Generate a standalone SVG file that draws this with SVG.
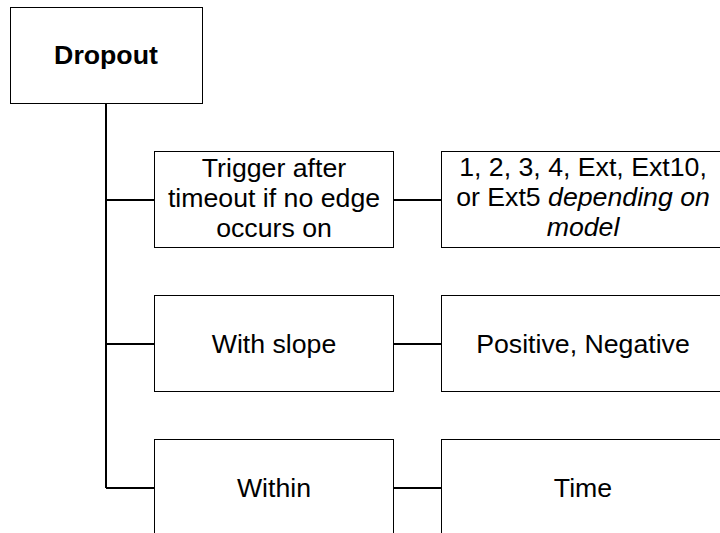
<svg xmlns="http://www.w3.org/2000/svg" width="720" height="533" viewBox="0 0 720 533">
<style>
.box{fill:#fff;stroke:#000;stroke-width:1}
.conn{fill:none;stroke:#000;stroke-width:2}
text{font-family:"Liberation Sans",Arial,sans-serif;font-size:26.7px;fill:#000;text-anchor:middle}
.b{font-weight:bold}
.i{font-style:italic}
</style>
<rect width="720" height="533" fill="#fff"/>
<g id="connectors">
<path class="conn" d="M106 103.5V488M106 200H154.5M106 344H154.5M106 488H154.5M393.5 200H441.5M393.5 344H441.5M393.5 488H441.5"/>
</g>
<g id="dropout">
<rect class="box" x="10.5" y="7.5" width="192" height="96"/>
<text class="b" x="106" y="64">Dropout</text>
</g>
<g id="trigger">
<rect class="box" x="154.5" y="151.5" width="239" height="96"/>
<text x="274" y="177">Trigger after</text>
<text x="274" y="207">timeout if no edge</text>
<text x="274" y="237">occurs on</text>
</g>
<g id="sources">
<rect class="box" x="441.5" y="151.5" width="283" height="96"/>
<text x="583" y="176">1, 2, 3, 4, Ext, Ext10,</text>
<text x="583" y="206">or Ext5 <tspan class="i">depending on</tspan></text>
<text x="583" y="236" class="i">model</text>
</g>
<g id="slope">
<rect class="box" x="154.5" y="295.5" width="239" height="96"/>
<text x="274" y="353">With slope</text>
</g>
<g id="slopevals">
<rect class="box" x="441.5" y="295.5" width="283" height="96"/>
<text x="583" y="353">Positive, Negative</text>
</g>
<g id="within">
<rect class="box" x="154.5" y="439.5" width="239" height="96"/>
<text x="274" y="497">Within</text>
</g>
<g id="time">
<rect class="box" x="441.5" y="439.5" width="283" height="96"/>
<text x="583" y="497">Time</text>
</g>
</svg>
